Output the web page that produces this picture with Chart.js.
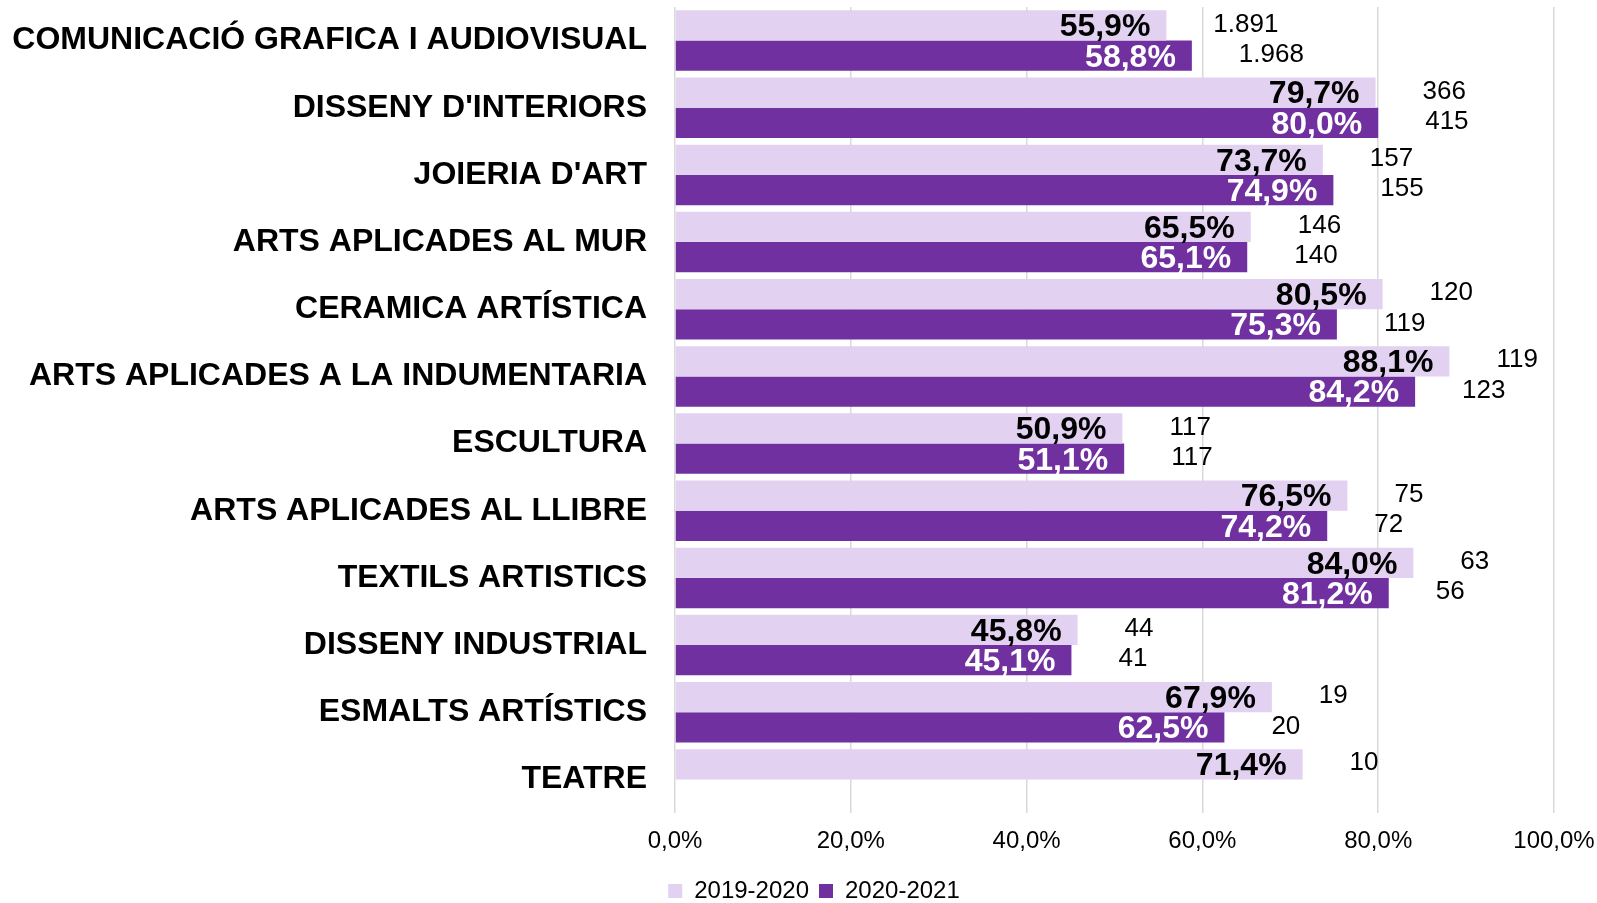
<!DOCTYPE html>
<html>
<head>
<meta charset="utf-8">
<script src="https://cdn.jsdelivr.net/npm/chart.js@4.4.1/dist/chart.umd.min.js"></script>
<style>
  html, body { margin: 0; padding: 0; background: #fff; }
  canvas { display: block; }
</style>
</head>
<body>
<canvas id="chart" width="1597" height="903"></canvas>
<script>
const categories = [
  "COMUNICACIÓ GRAFICA I AUDIOVISUAL",
  "DISSENY D'INTERIORS",
  "JOIERIA D'ART",
  "ARTS APLICADES AL MUR",
  "CERAMICA ARTÍSTICA",
  "ARTS APLICADES A LA INDUMENTARIA",
  "ESCULTURA",
  "ARTS APLICADES AL LLIBRE",
  "TEXTILS ARTISTICS",
  "DISSENY INDUSTRIAL",
  "ESMALTS ARTÍSTICS",
  "TEATRE"
];

const seriesNames = ["2019-2020", "2020-2021"];

// % sobre el total
const pct1920 = [55.9, 79.7, 73.7, 65.5, 80.5, 88.1, 50.9, 76.5, 84.0, 45.8, 67.9, 71.4];
const pct2021 = [58.8, 80.0, 74.9, 65.1, 75.3, 84.2, 51.1, 74.2, 81.2, 45.1, 62.5, null];

// nombre d'alumnes
const count1920 = [1891, 366, 157, 146, 120, 119, 117, 75, 63, 44, 19, 10];
const count2021 = [1968, 415, 155, 140, 119, 123, 117, 72, 56, 41, 20, null];

const xTicks = [0, 20, 40, 60, 80, 100];

const FONT = "'Liberation Sans', Arial, sans-serif";
const lightColor = "#E2D1F1";
const darkColor = "#7030A0";

function fmtPct(v) {
  return v.toFixed(1).replace(".", ",") + "%";
}

function fmtCount(v) {
  return String(v).replace(/\B(?=(\d{3})+(?!\d))/g, ".");
}

// sense padding automàtic de les etiquetes
function noPadding(scale) {
  scale.paddingTop = 0;
  scale.paddingBottom = 0;
  scale.paddingLeft = 0;
  scale.paddingRight = 0;
}

const barLabels = {
  id: "barLabels",
  afterDatasetsDraw(chart) {
    const ctx = chart.ctx;
    const counts = [count1920, count2021];
    const textColors = ["#000000", "#ffffff"];
    chart.data.datasets.forEach((ds, di) => {
      const meta = chart.getDatasetMeta(di);
      meta.data.forEach((bar, i) => {
        const v = ds.data[i];
        if (v === null || v === undefined) return;
        ctx.save();
        ctx.textBaseline = "middle";
        // percentatge dins la barra
        ctx.font = "bold 32px " + FONT;
        ctx.fillStyle = textColors[di];
        ctx.textAlign = "right";
        ctx.fillText(fmtPct(v), bar.x - 16, bar.y + 2);
        // nombre fora la barra
        ctx.font = "26px " + FONT;
        ctx.fillStyle = "#000000";
        ctx.textAlign = "left";
        ctx.fillText(fmtCount(counts[di][i]), bar.x + 47, bar.y - 1);
        ctx.restore();
      });
    });
  }
};

// la llegenda va una mica més a la dreta
const legendShift = {
  id: "legendShift",
  afterLayout(chart) {
    if (chart.legend) {
      chart.legend.left += 37;
      chart.legend.right += 37;
    }
  }
};

new Chart(document.getElementById("chart"), {
  type: "bar",
  data: {
    labels: categories,
    datasets: [
      {
        label: seriesNames[0],
        data: pct1920,
        backgroundColor: lightColor,
        categoryPercentage: 0.9,
        barPercentage: 1.0
      },
      {
        label: seriesNames[1],
        data: pct2021,
        backgroundColor: darkColor,
        categoryPercentage: 0.9,
        barPercentage: 1.0
      }
    ]
  },
  options: {
    indexAxis: "y",
    responsive: false,
    devicePixelRatio: 1,
    animation: false,
    layout: { padding: { top: 7, right: 43, bottom: -10, left: 0 } },
    scales: {
      x: {
        min: 0,
        max: 100,
        afterBuildTicks(scale) {
          scale.ticks = xTicks.map(v => ({ value: v }));
        },
        afterFit(scale) {
          scale.height = 56;
          noPadding(scale);
        },
        grid: { color: "#d9d9d9", lineWidth: 1.5, drawTicks: false },
        border: { display: false },
        ticks: {
          padding: 14,
          color: "#000000",
          font: { family: FONT, size: 24 },
          callback: v => v.toFixed(1).replace(".", ",") + "%"
        }
      },
      y: {
        afterFit(scale) {
          scale.width = 675;
          noPadding(scale);
        },
        grid: { display: false, drawTicks: false },
        border: { display: false },
        ticks: {
          padding: 28,
          color: "#000000",
          font: { family: FONT, size: 32, weight: "bold" }
        }
      }
    },
    plugins: {
      tooltip: { enabled: false },
      legend: {
        position: "bottom",
        labels: {
          boxWidth: 14,
          boxHeight: 14,
          padding: 10,
          color: "#000000",
          font: { family: FONT, size: 24 }
        }
      }
    }
  },
  plugins: [barLabels, legendShift]
});
</script>
</body>
</html>
